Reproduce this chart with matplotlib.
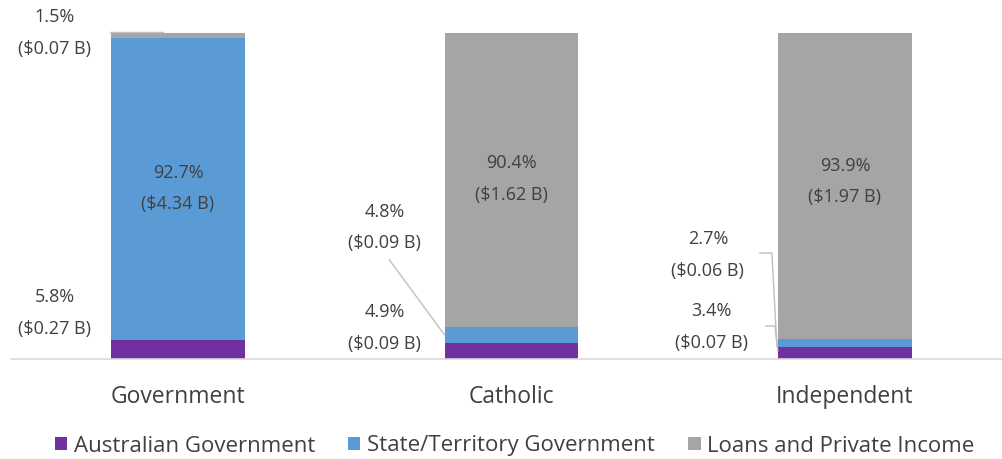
import matplotlib
matplotlib.use("Agg")
import matplotlib.pyplot as plt
from matplotlib.patches import Patch

categories = ["Government", "Catholic", "Independent"]
series_names = ["Australian Government", "State/Territory Government", "Loans and Private Income"]
aus_gov = [5.8, 4.9, 3.4]
state_gov = [92.7, 4.8, 2.7]
private = [1.5, 90.4, 93.9]
aus_labels = ["5.8%\n($0.27 B)", "4.9%\n($0.09 B)", "3.4%\n($0.07 B)"]
state_labels = ["92.7%\n($4.34 B)", "4.8%\n($0.09 B)", "2.7%\n($0.06 B)"]
private_labels = ["1.5%\n($0.07 B)", "90.4%\n($1.62 B)", "93.9%\n($1.97 B)"]

colors = ["#7030A0", "#5B9BD5", "#A5A5A5"]
txt = "#404040"
font = ["Open Sans", "DejaVu Sans"]

fig = plt.figure(figsize=(10.03, 4.59), dpi=100)
ax = fig.add_axes([11/1003, (459-358.5)/459, (1003-11)/1003, 325.5/459])

x = list(range(len(categories)))
w = 0.4
ax.bar(x, aus_gov, w, color=colors[0], label=series_names[0])
bottom2 = aus_gov
ax.bar(x, state_gov, w, bottom=bottom2, color=colors[1], label=series_names[1])
bottom3 = [a + s for a, s in zip(aus_gov, state_gov)]
ax.bar(x, private, w, bottom=bottom3, color=colors[2], label=series_names[2])

ax.set_xlim(-0.5007, 2.474)
ax.set_ylim(0, 100)
for s in ["top", "right", "left"]:
    ax.spines[s].set_visible(False)
ax.spines["bottom"].set_color("#D9D9D9")
ax.spines["bottom"].set_linewidth(1.2)
ax.set_yticks([])
ax.set_xticks(x)
ax.set_xticklabels(categories, family=font, fontsize=16.5, color=txt)
ax.tick_params(axis="x", length=0, pad=19)

fs = 13
kw = dict(ha="center", va="center", family=font, fontsize=fs, color=txt, linespacing=1.95)

# labels inside large segments
inside_offsets = [0.0, 0.2, 1.3]
for i in range(3):
    if state_gov[i] > 50:
        ax.text(x[i], bottom2[i] + state_gov[i] / 2 + inside_offsets[i], state_labels[i], **kw)
    if private[i] > 50:
        ax.text(x[i], bottom3[i] + private[i] / 2 + inside_offsets[i], private_labels[i], **kw)

# outside labels
ax.text(-0.369, 100.0, private_labels[0], clip_on=False, **kw)
ax.text(-0.369, 14.0, aus_labels[0], **kw)
ax.text(0.619, 40.2, state_labels[1], **kw)
ax.text(0.619, 9.4, aus_labels[1], **kw)
ax.text(1.589, 31.8, state_labels[2], **kw)
ax.text(1.600, 9.7, aus_labels[2], **kw)

lc = "#BFBFBF"
ax.plot([-0.204, -0.045], [100.3, 100.3], color=lc, lw=1, clip_on=False)
ax.plot([0.634, 0.799], [30.3, 7.3], color=lc, lw=1)
ax.plot([1.745, 1.781, 1.796], [32.4, 32.4, 3.8], color=lc, lw=1)
ax.plot([1.763, 1.790, 1.799], [10.0, 10.0, 2.3], color=lc, lw=1)

handles = [Patch(facecolor=c, label=n) for c, n in zip(colors, series_names)]
fig.legend(handles=handles, loc="center", bbox_to_anchor=(0.513, 1 - 446/459), ncol=3,
           frameon=False, handlelength=0.55, handleheight=0.55, handletextpad=0.3,
           columnspacing=1.5, prop={"family": font, "size": 16}, labelcolor=txt)

fig.savefig("out.png", dpi=100)
